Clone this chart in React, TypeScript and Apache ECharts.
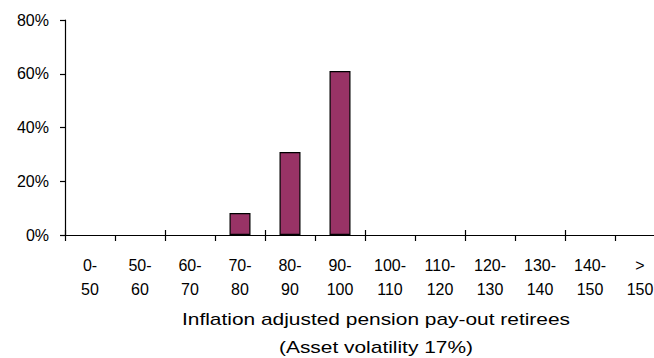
import React, { useEffect, useRef } from "react";
import * as echarts from "echarts";

const categories = ["0-50", "50-60", "60-70", "70-80", "80-90", "90-100", "100-110", "110-120", "120-130", "130-140", "140-150", "> 150"];
const shares = [0, 0, 0, 8.2, 30.9, 61.0, 0, 0, 0, 0, 0, 0];
const yTicks = { min: 0, max: 80, interval: 20 };
const titleLine1 = "Inflation adjusted pension pay-out retirees";
const titleLine2 = "(Asset volatility 17%)";

const FONT = "'Liberation Sans', Arial, sans-serif";

function splitLabel(v: string): string {
  if (v.startsWith(">")) return ">\n" + v.replace(">", "").trim();
  const i = v.indexOf("-");
  return v.slice(0, i + 1) + "\n" + v.slice(i + 1);
}

export default function App() {
  const ref = useRef<HTMLDivElement>(null);
  useEffect(() => {
    if (!ref.current) return;
    const chart = echarts.init(ref.current, undefined, { renderer: "svg" });
    chart.setOption({
      animation: false,
      backgroundColor: "#ffffff",
      grid: { left: 65, top: 20, width: 600, height: 215, containLabel: false },
      xAxis: [
        {
          type: "category",
          data: categories,
          position: "bottom",
          boundaryGap: true,
          axisLine: { show: true, lineStyle: { color: "#000", width: 1.2 } },
          axisTick: { show: true, inside: false, length: 6, lineStyle: { color: "#000", width: 1.2 } },
          axisLabel: {
            show: true,
            interval: 0,
            formatter: (v: string) => splitLabel(v),
            fontFamily: FONT,
            fontSize: 16,
            color: "#000",
            lineHeight: 24,
            margin: 18,
          },
          splitLine: { show: false },
        },
        {
          type: "category",
          data: categories,
          position: "bottom",
          boundaryGap: true,
          axisLine: { show: false },
          axisTick: { show: true, inside: true, length: 5, lineStyle: { color: "#000", width: 1.2 } },
          axisLabel: { show: false },
          splitLine: { show: false },
        },
      ],
      yAxis: {
        type: "value",
        min: yTicks.min,
        max: yTicks.max,
        interval: yTicks.interval,
        axisLine: { show: true, lineStyle: { color: "#000", width: 1.2 } },
        axisTick: { show: true, inside: false, length: 5, lineStyle: { color: "#000", width: 1.2 } },
        axisLabel: {
          formatter: "{value}%",
          fontFamily: FONT,
          fontSize: 16,
          color: "#000",
          margin: 16,
        },
        splitLine: { show: false },
      },
      series: [
        {
          type: "bar",
          xAxisIndex: 0,
          data: shares.map((v) => ({
            value: v,
            itemStyle: { borderWidth: v > 0 ? 1.2 : 0 },
          })),
          barWidth: 21,
          itemStyle: { color: "#993366", borderColor: "#000", borderWidth: 1.2 },
        },
      ],
      graphic: [
        {
          type: "text",
          x: 376,
          y: 319,
          scaleX: 1.23,
          style: {
            text: titleLine1,
            fontFamily: FONT,
            fontSize: 17,
            fill: "#000",
            textAlign: "center",
            textVerticalAlign: "middle",
          },
        },
        {
          type: "text",
          x: 376,
          y: 347,
          scaleX: 1.23,
          style: {
            text: titleLine2,
            fontFamily: FONT,
            fontSize: 17,
            fill: "#000",
            textAlign: "center",
            textVerticalAlign: "middle",
          },
        },
      ],
    });
    return () => chart.dispose();
  }, []);
  return (
    <div style={{ position: "fixed", left: 0, top: 0, width: 654, height: 358, overflow: "hidden", background: "#fff" }}>
      <div ref={ref} style={{ width: 700, height: 358 }} />
    </div>
  );
}
